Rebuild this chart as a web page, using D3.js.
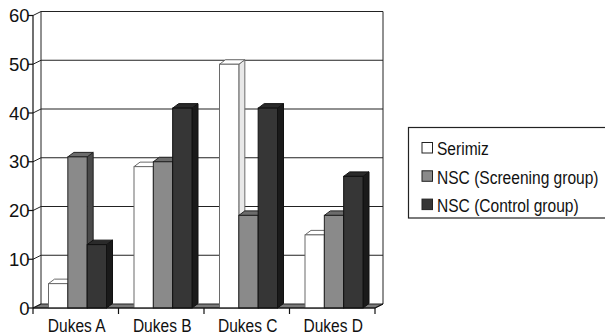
<!DOCTYPE html>
<html><head><meta charset="utf-8">
<script src="https://cdn.jsdelivr.net/npm/d3@7"></script>
<style>body{margin:0;background:#fff}svg{display:block}text{font-family:"Liberation Sans",Arial,sans-serif;fill:#111}</style>
</head><body>
<svg id="c" width="605" height="336"></svg>
<script>
const categories = ["Dukes A", "Dukes B", "Dukes C", "Dukes D"];
const seriesNames = ["Serimiz", "NSC (Screening group)", "NSC (Control group)"];
const serimiz = [5, 29, 50, 15];
const screening = [31, 30, 19, 19];
const control = [13, 41, 41, 27];
const yTicks = [0, 10, 20, 30, 40, 50, 60];

const seriesValues = [serimiz, screening, control];
const fills = [
  {front:"#ffffff", top:"#ffffff", side:"#e8e8e8", stroke:"#6a6a6a"},
  {front:"#8a8a8a", top:"#6c6c6c", side:"#4a4a4a", stroke:"#222"},
  {front:"#363636", top:"#2a2a2a", side:"#1a1a1a", stroke:"#111"}
];

const svg = d3.select("#c");
const X0 = 33, X1 = 375, Y0 = 308;
const WDX = 8, WDY = -4;    // wall depth
const BDX = 6, BDY = -4.5;  // bar depth
const y = d3.scaleLinear().domain([0, 60]).range([Y0, 15.5]);
const x = d3.scaleBand().domain(categories).range([X0, X1]);
const xs = d3.scaleBand().domain(d3.range(3)).range([15.5, 73.5]);

// floor
svg.append("path")
  .attr("d", `M${X0},${Y0}L${X1},${Y0}L${X1+WDX},${Y0+WDY}L${X0+WDX},${Y0+WDY}Z`)
  .attr("fill", "#7a7a7a").attr("stroke", "#222").attr("stroke-width", 1);

// back wall gridlines and side wall diagonals
const g = svg.append("g");
yTicks.forEach(t => {
  const yf = y(t), yb = y(t) + WDY;
  if (t > 0) g.append("line").attr("x1", X0+WDX).attr("x2", X1+WDX).attr("y1", yb).attr("y2", yb)
    .attr("stroke", "#222").attr("stroke-width", 1.2);
  g.append("line").attr("x1", X0).attr("x2", X0+WDX).attr("y1", yf).attr("y2", yb)
    .attr("stroke", "#222").attr("stroke-width", 1);
});
g.append("line").attr("x1", X0+WDX).attr("x2", X0+WDX).attr("y1", y(60)+WDY).attr("y2", Y0+WDY).attr("stroke", "#222");
g.append("line").attr("x1", X1+WDX).attr("x2", X1+WDX).attr("y1", y(60)+WDY).attr("y2", Y0+WDY).attr("stroke", "#222");

// bars
categories.forEach((c, ci) => {
  seriesValues.forEach((vals, si) => {
    const v = vals[ci];
    const bx = x(c) + xs(si), bw = xs.bandwidth();
    const yt = y(v);
    const f = fills[si];
    const bg = svg.append("g");
    bg.append("path").attr("d", `M${bx+bw},${Y0}L${bx+bw+BDX},${Y0+BDY}L${bx+bw+BDX},${yt+BDY}L${bx+bw},${yt}Z`)
      .attr("fill", f.side).attr("stroke", f.stroke).attr("stroke-width", 1);
    bg.append("path").attr("d", `M${bx},${yt}L${bx+bw},${yt}L${bx+bw+BDX},${yt+BDY}L${bx+BDX},${yt+BDY}Z`)
      .attr("fill", f.top).attr("stroke", f.stroke).attr("stroke-width", 1);
    bg.append("rect").attr("x", bx).attr("y", yt).attr("width", bw).attr("height", Y0 - yt)
      .attr("fill", f.front).attr("stroke", f.stroke).attr("stroke-width", 1);
  });
});

// front axes
svg.append("line").attr("x1", X0).attr("x2", X0).attr("y1", y(60)).attr("y2", Y0).attr("stroke", "#111").attr("stroke-width", 1.2);
svg.append("line").attr("x1", X0).attr("x2", X1).attr("y1", Y0).attr("y2", Y0).attr("stroke", "#111").attr("stroke-width", 1.2);
svg.append("line").attr("x1", X1).attr("x2", X1+WDX).attr("y1", Y0).attr("y2", Y0+WDY).attr("stroke", "#111");

// y ticks
yTicks.forEach(t => {
  svg.append("line").attr("x1", X0-5).attr("x2", X0).attr("y1", y(t)).attr("y2", y(t)).attr("stroke", "#111").attr("stroke-width", 1.2);
  svg.append("text").attr("x", X0-3.5).attr("y", y(t) + 6.7).attr("text-anchor", "end")
    .attr("font-size", 18.5).text(t);
});
// x ticks
const bounds = categories.map(c => x(c)).concat([X1]);
bounds.forEach(b => svg.append("line").attr("x1", b).attr("x2", b).attr("y1", Y0).attr("y2", Y0+6).attr("stroke", "#111").attr("stroke-width", 1.2));
categories.forEach(c => {
  svg.append("text").attr("transform", `translate(${x(c) + x.bandwidth()/2 + 1},332) scale(0.84,1)`)
    .attr("text-anchor", "middle").attr("font-size", 18.5).text(c);
});

// legend
svg.append("rect").attr("x", 408.5).attr("y", 127.5).attr("width", 210).attr("height", 90.5)
  .attr("fill", "#fff").attr("stroke", "#222").attr("stroke-width", 1.2);
seriesNames.forEach((n, i) => {
  const ly = 142.5 + i * 28.3;
  svg.append("rect").attr("x", 422).attr("y", ly).attr("width", 10.5).attr("height", 10.5)
    .attr("fill", fills[i].front).attr("stroke", "#222").attr("stroke-width", 1);
  svg.append("text").attr("transform", `translate(437,${ly + 12.8}) scale(0.85,1)`)
    .attr("font-size", 18.3).text(n);
});
</script>
</body></html>
